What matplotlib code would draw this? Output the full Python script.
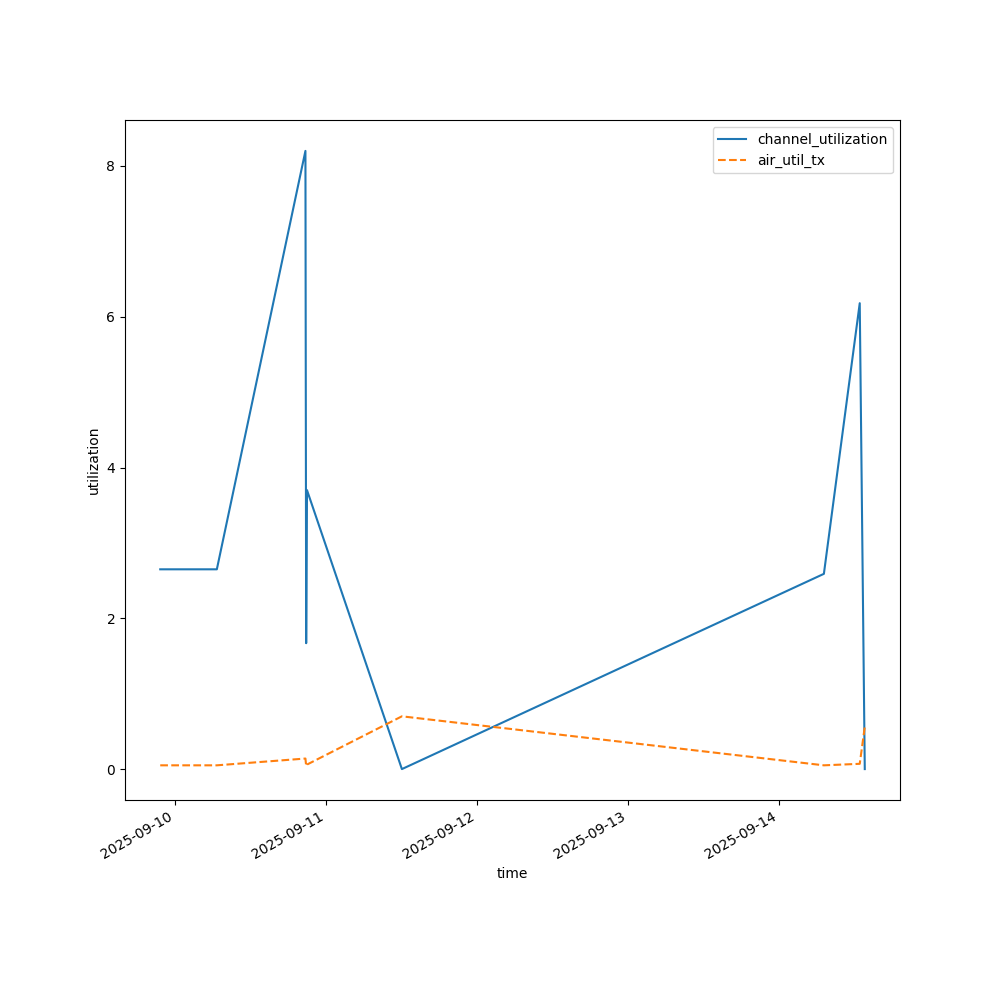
import matplotlib
matplotlib.use("Agg")
import matplotlib.pyplot as plt
import pandas as pd

times = pd.to_datetime([
    "2025-09-09 21:40", "2025-09-10 06:40", "2025-09-10 20:45",
    "2025-09-10 20:52", "2025-09-10 21:00", "2025-09-11 12:05",
    "2025-09-14 07:10", "2025-09-14 12:52", "2025-09-14 13:40",
])
channel_utilization = [2.65, 2.65, 8.2, 1.67, 3.7, 0.0, 2.59, 6.18, 0.0]
air_util_tx = [0.05, 0.05, 0.14, 0.04, 0.06, 0.70, 0.05, 0.07, 0.56]

fig, ax = plt.subplots(figsize=(10, 10), dpi=100)
ax.plot(times, channel_utilization, "-", label="channel_utilization")
ax.plot(times, air_util_tx, "--", label="air_util_tx")
ax.set_xlabel("time")
ax.set_ylabel("utilization")
ax.legend()
fig.autofmt_xdate()
fig.savefig("out.png")
